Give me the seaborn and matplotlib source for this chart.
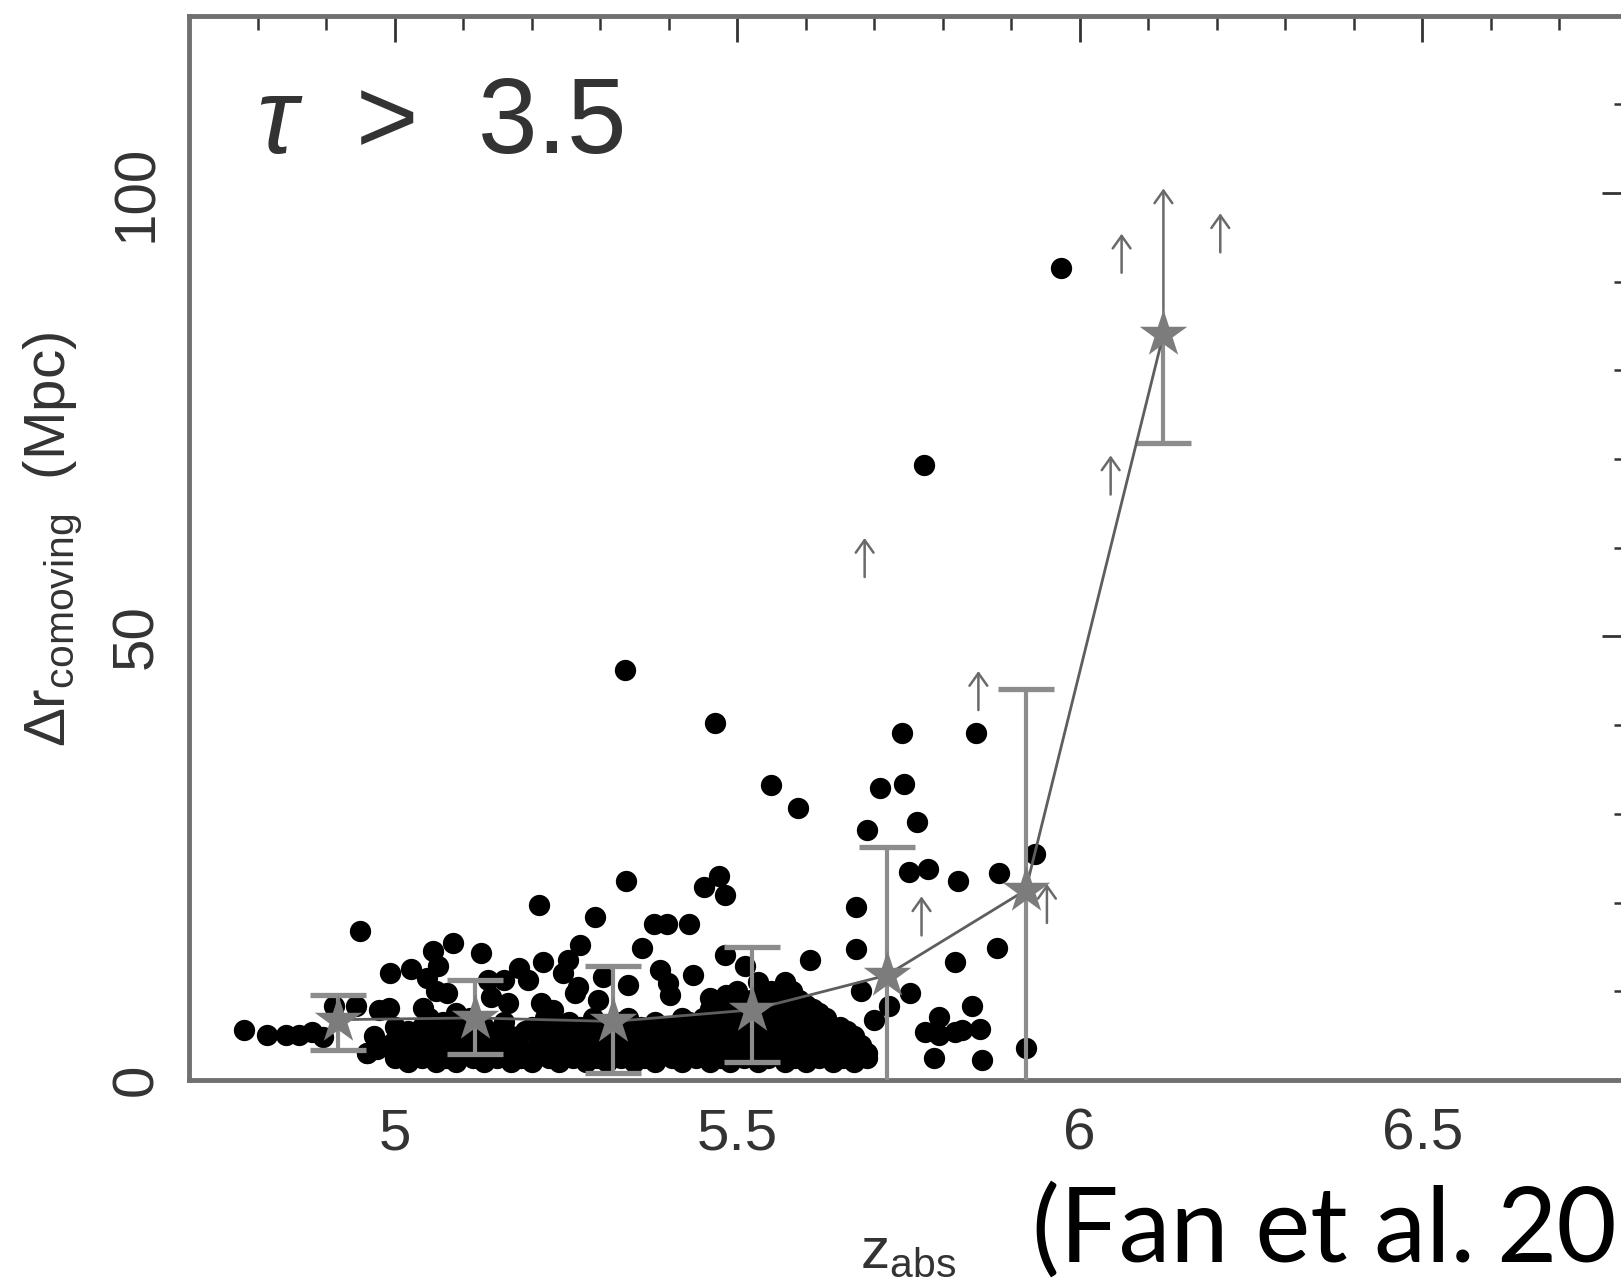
import matplotlib
matplotlib.use("Agg")
import matplotlib.pyplot as plt
from matplotlib.ticker import MultipleLocator, FixedLocator
import numpy as np
import pandas as pd
import seaborn as sns

# ---------------- data ----------------
# scattered gaps above the dense band (z_abs, Delta r)
outlier_z = [4.780, 4.814, 4.841, 4.861, 4.880, 4.895, 4.949, 4.912, 4.944, 4.960,
             4.978, 4.992, 4.994, 5.024, 5.056, 5.085, 5.126, 5.063, 5.048, 5.060,
             5.077, 5.041, 5.089, 5.211, 5.338, 5.474, 5.452, 5.482, 5.292, 5.378,
             5.398, 5.430, 5.361, 5.482, 5.270, 5.253, 5.216, 5.182, 5.194, 5.246,
             5.268, 5.160, 5.136, 5.387, 5.399, 5.402, 5.435, 5.341, 5.304, 5.511,
             5.460, 5.484, 5.165, 5.214, 5.231, 5.263, 5.297, 5.141,
             5.674, 5.674, 5.606, 5.818, 5.879, 5.752, 5.681, 5.721, 5.699, 5.842,
             5.794, 5.774, 5.794, 5.818, 5.855, 5.787, 5.857, 5.921, 5.828,
             5.741, 5.849, 5.708, 5.744, 5.690, 5.762, 5.750, 5.779, 5.822, 5.882,
             5.935, 5.589, 5.550, 5.468, 5.336, 5.773, 5.972]
outlier_r = [5.6, 5.1, 5.1, 5.1, 5.4, 4.9, 16.8, 8.3, 8.3, 3.0,
             7.9, 8.1, 12.1, 12.5, 14.5, 15.4, 14.3, 12.8, 11.5, 10.0,
             9.8, 8.1, 7.5, 19.7, 22.4, 23.0, 21.8, 20.8, 18.4, 17.6,
             17.6, 17.6, 14.9, 14.1, 15.2, 13.5, 13.3, 12.6, 11.3, 12.1,
             10.5, 11.3, 11.3, 12.4, 10.9, 9.6, 11.8, 10.7, 11.6, 12.8,
             9.2, 9.6, 8.7, 8.7, 7.9, 9.8, 9.0, 9.4,
             19.5, 14.8, 13.5, 13.3, 14.9, 9.8, 10.0, 8.3, 6.8, 8.3,
             7.1, 5.4, 5.1, 5.4, 5.8, 2.5, 2.3, 3.6, 5.6,
             39.1, 39.1, 32.9, 33.4, 28.2, 29.1, 23.5, 23.8, 22.4, 23.3,
             25.5, 30.7, 33.3, 40.2, 46.2, 69.3, 91.5]

# dense band of short gaps, read row by row (z positions for each Delta r level)
band_r2 = [5.02, 5.06, 5.09, 5.13, 5.17, 5.20, 5.24, 5.28, 5.31, 5.35, 5.38, 5.42,
           5.46, 5.49, 5.53, 5.57, 5.60, 5.64, 5.67]
band_r2_5 = [5.00, 5.04, 5.075, 5.115, 5.15, 5.185, 5.225, 5.26, 5.295, 5.33, 5.365,
             5.405, 5.44, 5.475, 5.51, 5.545, 5.585, 5.62, 5.655, 5.69]
band_r3 = [4.96, 5.00, 5.04, 5.07, 5.11, 5.15, 5.19, 5.22, 5.26, 5.29, 5.33, 5.37,
           5.40, 5.44, 5.47, 5.51, 5.55, 5.58, 5.62, 5.66, 5.69]
band_r3_5 = [4.975, 5.02, 5.055, 5.095, 5.13, 5.165, 5.205, 5.24, 5.275, 5.315, 5.35,
             5.385, 5.42, 5.455, 5.495, 5.53, 5.565, 5.605, 5.64, 5.675]
band_r4 = [4.98, 5.01, 5.05, 5.08, 5.12, 5.16, 5.18, 5.23, 5.27, 5.30, 5.34, 5.36,
           5.41, 5.45, 5.48, 5.52, 5.54, 5.59, 5.63, 5.65, 5.68]
band_r4_5 = [5.00, 5.035, 5.07, 5.105, 5.14, 5.175, 5.215, 5.25, 5.285, 5.325, 5.36,
             5.395, 5.43, 5.465, 5.505, 5.54, 5.575, 5.615, 5.65]
band_r5 = [4.97, 5.03, 5.06, 5.10, 5.14, 5.17, 5.21, 5.25, 5.28, 5.32, 5.35, 5.39,
           5.43, 5.46, 5.50, 5.53, 5.56, 5.60, 5.64, 5.67]
band_r5_5 = [5.02, 5.075, 5.12, 5.155, 5.19, 5.23, 5.265, 5.30, 5.34, 5.375, 5.415,
             5.45, 5.485, 5.52, 5.56, 5.595, 5.63, 5.66]
band_r6 = [5.00, 5.04, 5.09, 5.13, 5.20, 5.24, 5.27, 5.31, 5.36, 5.40, 5.44, 5.47,
           5.51, 5.55, 5.58, 5.61, 5.65]
band_r6_5 = [5.07, 5.16, 5.255, 5.33, 5.38, 5.43, 5.46, 5.495, 5.53, 5.565, 5.595, 5.625]
band_r7 = [5.05, 5.11, 5.22, 5.29, 5.34, 5.42, 5.45, 5.49, 5.53, 5.57, 5.60, 5.63]
band_r7_5 = [5.47, 5.51, 5.55, 5.585, 5.62]
band_r8 = [5.46, 5.50, 5.54, 5.58, 5.61]
band_r8_5 = [5.48, 5.53, 5.57, 5.60]
band_r9 = [5.48, 5.52, 5.56, 5.59]
band_r9_5 = [5.50, 5.54, 5.58]
band_r10 = [5.50, 5.55, 5.58]
band_r11 = [5.53, 5.57]

# lower limits (upward arrows): z and base value
limit_z = [5.686, 5.769, 5.852, 5.952, 6.045, 6.061, 6.205]
limit_r = [56.7, 16.3, 41.7, 17.7, 66.0, 91.0, 93.3]

# binned means (stars) with error bars
bin_z = [4.917, 5.117, 5.319, 5.521, 5.718, 5.921, 6.122]
bin_mean = [6.8, 7.0, 6.6, 7.9, 11.8, 21.4, 84.1]
bin_upper = [9.6, 11.3, 12.8, 15.0, 26.3, 44.1, 100.5]
bin_lower = [3.4, 2.9, 0.8, 2.0, -1.0, -1.0, 71.8]

x_ticks = [5, 5.5, 6, 6.5]
x_ticklabels = ["5", "5.5", "6", "6.5"]
y_ticks = [0, 50, 100]
y_ticklabels = ["0", "50", "100"]

# ---------------- build tables ----------------
band_rows = {2.0: band_r2, 2.5: band_r2_5, 3.0: band_r3, 3.5: band_r3_5,
             4.0: band_r4, 4.5: band_r4_5, 5.0: band_r5, 5.5: band_r5_5,
             6.0: band_r6, 6.5: band_r6_5, 7.0: band_r7, 7.5: band_r7_5,
             8.0: band_r8, 8.5: band_r8_5, 9.0: band_r9, 9.5: band_r9_5,
             10.0: band_r10, 11.0: band_r11}
bz, br = [], []
for rv, zs in band_rows.items():
    bz += zs
    br += [rv] * len(zs)
dots = pd.DataFrame({"z": outlier_z + bz, "r": outlier_r + br})
bins = pd.DataFrame({"z": bin_z, "r": bin_mean})

# ---------------- style ----------------
sns.set_theme(style="white")
plt.rcParams["font.family"] = ["Liberation Sans", "DejaVu Sans"]
plt.rcParams["mathtext.fontset"] = "custom"
plt.rcParams["mathtext.rm"] = "Liberation Sans"
plt.rcParams["mathtext.it"] = "Liberation Sans:italic"
plt.rcParams["mathtext.bf"] = "Liberation Sans:bold"

W, H = 1621, 1287
fig = plt.figure(figsize=(W / 100, H / 100), dpi=100)
fig.patch.set_facecolor("white")
ax = fig.add_axes([189 / W, (H - 1080) / H, (1628 - 189) / W, (1080 - 15.5) / H])
ax.set_facecolor("white")

# black points
sns.scatterplot(data=dots, x="z", y="r", ax=ax, color="black", s=235,
                linewidth=0, zorder=3, legend=False)

# error bars for bins 1..6
GRAY = "#8c8c8c"
z6 = np.array(bin_z[:6])
m6 = np.array(bin_mean[:6])
lo6 = m6 - np.array(bin_lower[:6])
hi6 = np.array(bin_upper[:6]) - m6
ax.errorbar(z6, m6, yerr=[lo6, hi6], fmt="none", ecolor=GRAY, elinewidth=3.0,
            capsize=20, capthick=3.8, zorder=4)
# bin 7: lower part with cap, upper part as a lower-limit arrow
ax.vlines(bin_z[6], bin_lower[6], bin_mean[6], color=GRAY, lw=3.0, zorder=4)
ax.plot([bin_z[6]], [bin_lower[6]], marker="_", ms=40, mew=3.8, color=GRAY, zorder=4)
ax.annotate("", xy=(bin_z[6], bin_upper[6]), xytext=(bin_z[6], bin_mean[6]),
            arrowprops=dict(arrowstyle="->,head_length=0.45,head_width=0.32",
                            color="#6a6a6a", lw=1.8, shrinkA=0, shrinkB=0,
                            mutation_scale=20), zorder=4)

# connecting line and stars
sns.lineplot(data=bins, x="z", y="r", ax=ax, color="#5e5e5e", lw=2.0,
             sort=False, zorder=5, legend=False)
sns.scatterplot(data=bins, x="z", y="r", ax=ax, marker="*", s=36 ** 2,
                color="#7c7c7c", linewidth=0, zorder=6, legend=False)

# lower-limit arrows
for zz, rr in zip(limit_z, limit_r):
    ax.annotate("", xy=(zz, rr + 4.4), xytext=(zz, rr),
                arrowprops=dict(arrowstyle="->,head_length=0.45,head_width=0.32",
                                color="#6a6a6a", lw=1.8, shrinkA=0, shrinkB=0,
                                mutation_scale=20), zorder=5)

# axes
ax.set_xlim(4.7, 6.8)
ax.set_ylim(0, 120)
ax.xaxis.set_major_locator(FixedLocator(x_ticks))
ax.xaxis.set_minor_locator(MultipleLocator(0.1))
ax.yaxis.set_major_locator(FixedLocator(y_ticks))
ax.yaxis.set_minor_locator(MultipleLocator(10))
ax.set_xticklabels(x_ticklabels)
ax.set_yticklabels(y_ticklabels, rotation=90, va="center")
ax.tick_params(which="both", direction="in", top=True, right=True,
               color="#333333", labelcolor="#333333", labelsize=42)
ax.tick_params(which="major", length=19, width=2.0)
ax.tick_params(which="minor", length=10, width=1.8)
ax.tick_params(axis="x", which="major", pad=20)
ax.tick_params(axis="y", which="major", pad=18)
for sp in ax.spines.values():
    sp.set_visible(True)
    sp.set_color("#707070")
    sp.set_linewidth(3.5)

ax.set_xlabel(r"$\mathrm{z_{abs}}$", fontsize=42, color="#333333", labelpad=46)
ax.set_ylabel(r"$\mathrm{\Delta r_{comoving}}$  (Mpc)", fontsize=42, color="#333333")
ax.yaxis.set_label_coords(-0.073, 0.508)

# annotations
fig.text(256 / W, 1 - 153 / H, r"$\tau$  >  3.5", fontsize=77, color="#333333",
         ha="left", va="baseline")
fig.text(1032 / W, 1 - 1262 / H, "(Fan et al.", fontsize=75, color="black",
         family=["Lato", "DejaVu Sans"], ha="left", va="baseline")
fig.text(1617 / W, 1 - 1262 / H, "20", fontsize=75, color="black",
         family=["Lato", "DejaVu Sans"], ha="right", va="baseline")

fig.savefig("out.png", dpi=100)
